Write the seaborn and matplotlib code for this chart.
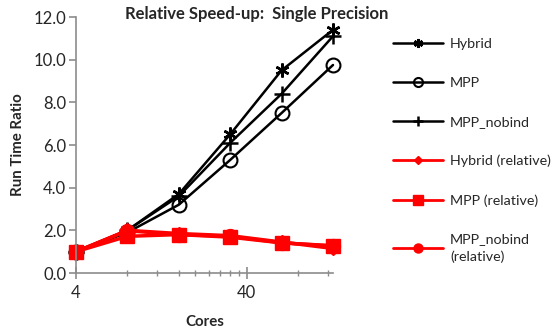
import matplotlib
matplotlib.use("Agg")
import matplotlib.pyplot as plt
import seaborn as sns
import numpy as np
import pandas as pd
from matplotlib.ticker import FixedLocator, FixedFormatter, NullFormatter

sns.set_style("white")
plt.rcParams['font.family'] = ['Lato', 'DejaVu Sans']

cores = [4, 8, 16, 32, 64, 128]
hybrid = [1.0, 2.0, 3.7, 6.5, 9.5, 11.4]
mpp = [1.0, 1.9, 3.2, 5.3, 7.5, 9.75]
mpp_nobind = [1.0, 2.0, 3.6, 6.1, 8.4, 11.1]
hybrid_rel = [1.0, 2.0, 1.85, 1.75, 1.45, 1.15]
mpp_rel = [1.0, 1.72, 1.8, 1.68, 1.41, 1.28]
mpp_nobind_rel = [1.0, 1.98, 1.8, 1.72, 1.42, 1.26]

series = [
    ("Hybrid", hybrid, "black", (6, 2, 0), 10, 'none', 1.8, 1.8),
    ("MPP", mpp, "black", "o", 10, 'none', 1.8, 1.5),
    ("MPP_nobind", mpp_nobind, "black", "+", 11, 'none', 1.8, 1.8),
    ("Hybrid (relative)", hybrid_rel, "red", "D", 7, 'red', 2.5, 1),
    ("MPP (relative)", mpp_rel, "red", "s", 10, 'red', 2.5, 1),
    ("MPP_nobind\n(relative)", mpp_nobind_rel, "red", "o", 10, 'red', 2.5, 1),
]

fig = plt.figure(figsize=(5.51, 3.33), dpi=100)
ax = fig.add_axes([76/551, 1-273/333, (333-76)/551, (273-17)/333])

for name, vals, col, mk, ms, mfc, lw, mew in series:
    df = pd.DataFrame({"Cores": cores, "Ratio": vals})
    sns.lineplot(data=df, x="Cores", y="Ratio", ax=ax, color=col, marker=mk,
                 markersize=ms, markerfacecolor=(col if mfc != 'none' else 'none'),
                 markeredgecolor=col, markeredgewidth=mew, linewidth=lw,
                 label=name, legend=False, clip_on=False)

ax.set_xscale('log')
ax.set_xlim(4, 128)
ax.set_ylim(0, 12)
ax.xaxis.set_major_locator(FixedLocator([4, 40]))
ax.xaxis.set_major_formatter(FixedFormatter(["4", "40"]))
ax.xaxis.set_minor_locator(FixedLocator([8, 12, 16, 20, 24, 28, 32, 36, 80, 120]))
ax.xaxis.set_minor_formatter(NullFormatter())
ax.set_yticks(np.arange(0, 12.1, 2))
ax.set_yticklabels([f"{v:.1f}" for v in np.arange(0, 12.1, 2)])

for s in ['top', 'right']:
    ax.spines[s].set_visible(False)
for s in ['left', 'bottom']:
    ax.spines[s].set_color('#8c8c8c')
    ax.spines[s].set_linewidth(1.2)
ax.tick_params(axis='y', which='major', direction='out', length=5, color='#8c8c8c',
               width=1.2, labelsize=12, pad=2, left=True)
ax.tick_params(axis='x', which='major', direction='inout', length=8, color='#8c8c8c',
               width=1.2, labelsize=12, pad=5, bottom=True)
ax.tick_params(axis='x', which='minor', direction='inout', length=5, color='#8c8c8c',
               width=1.0, bottom=True)

ax.set_xlabel("Cores", fontsize=10.8, fontweight='bold', labelpad=10)
ax.set_ylabel("Run Time Ratio", fontsize=10.8, fontweight='bold', labelpad=6)

fig.text(257/551, 1-14/333, "Relative Speed-up:  Single Precision", ha='center', va='center',
         fontsize=12, fontweight='bold')

handles, labels = ax.get_legend_handles_labels()
leg = fig.legend(handles, labels, loc='upper left', bbox_to_anchor=(380/551, 1-25/333),
                 frameon=False, fontsize=10.3, labelspacing=1.88, handlelength=3.5,
                 handletextpad=0.5, markerscale=0.65)
leg.get_texts()[-1].set_linespacing(1.45)
for h in leg.legend_handles:
    h.set_linewidth(min(h.get_linewidth(), 2.0))

fig.savefig("out.png", dpi=100)
